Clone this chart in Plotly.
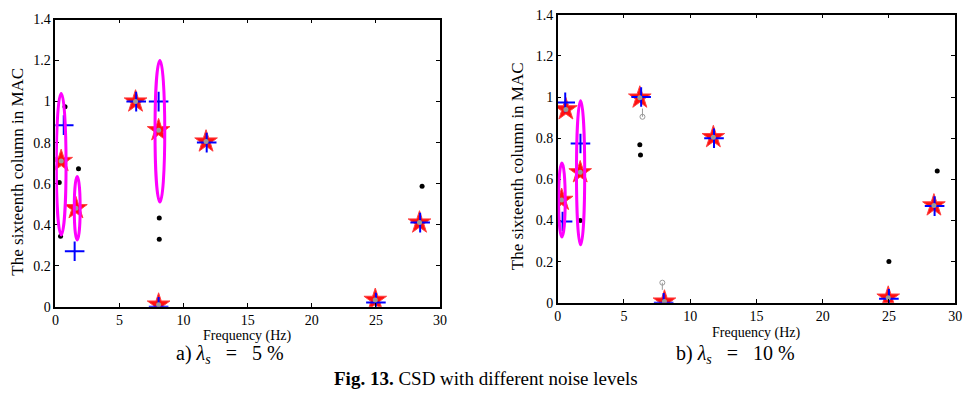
import plotly.graph_objects as go

# ---------------- data: a) lambda_s = 5 % ----------------
L_star_x = [0.45, 1.6, 6.25, 8.05, 8.05, 11.75, 24.95, 28.4]
L_star_y = [0.71, 0.48, 1.00, 0.86, 0.01, 0.805, 0.033, 0.41]
L_cross_x = [0.65, 1.5, 6.3, 8.05, 8.05, 11.8, 25.0, 28.45]
L_cross_y = [0.885, 0.27, 1.00, 1.00, 0.00, 0.80, 0.02, 0.41]
L_dot_x = [0.75, 0.4, 0.3, 1.8, 8.1, 8.1, 28.6]
L_dot_y = [0.975, 0.344, 0.605, 0.673, 0.432, 0.329, 0.587]
L_ell_cx = [0.45, 1.70, 8.15]
L_ell_cy = [0.695, 0.48, 0.855]
L_ell_rx = [0.38, 0.23, 0.38]
L_ell_ry = [0.345, 0.155, 0.345]

# ---------------- data: b) lambda_s = 10 % ----------------
R_star_x = [0.62, 0.3, 1.7, 6.2, 8.06, 11.75, 24.95, 28.4]
R_star_y = [0.94, 0.50, 0.634, 0.997, 0.006, 0.805, 0.025, 0.473]
R_cross_x = [0.57, 0.37, 1.72, 6.3, 8.0, 11.8, 25.0, 28.45]
R_cross_y = [0.974, 0.395, 0.774, 1.00, 0.00, 0.80, 0.02, 0.47]
R_dot_x = [6.2, 6.25, 1.7, 25.0, 28.65]
R_dot_y = [0.768, 0.718, 0.40, 0.201, 0.641]
R_stem_x = [6.4, 7.9]
R_stem_y = [0.904, 0.098]
R_stem_up = [0.04, 0.0]
R_stem_dn = [0.0, 0.035]
R_ell_cx = [0.32, 1.73]
R_ell_cy = [0.50, 0.632]
R_ell_rx = [0.25, 0.31]
R_ell_ry = [0.18, 0.35]

x_ticks = [0, 5, 10, 15, 20, 25, 30]
y_ticks = [0, 0.2, 0.4, 0.6, 0.8, 1.0, 1.2, 1.4]
y_tick_text = ["0", "0.2", "0.4", "0.6", "0.8", "1", "1.2", "1.4"]

FONT = "Liberation Serif, Times New Roman, serif"
RED = "#FF1010"
BLUE = "#0000FF"
MAG = "#FF00FF"
GRAY = "#9A9A9A"

fig = go.Figure()


def add_panel(xa, ya, sx, sy, cx, cy, dx, dy):
    fig.add_trace(go.Scatter(x=dx, y=dy, mode="markers", xaxis=xa, yaxis=ya,
                             marker=dict(color="black", size=5), showlegend=False))
    fig.add_trace(go.Scatter(x=sx, y=sy, mode="markers", xaxis=xa, yaxis=ya,
                             marker=dict(symbol="star", color=RED, size=17,
                                         line=dict(color="#FF4040", width=1)),
                             showlegend=False))
    fig.add_trace(go.Scatter(x=cx, y=cy, mode="markers", xaxis=xa, yaxis=ya,
                             marker=dict(symbol="cross-thin", size=14,
                                         line=dict(color=BLUE, width=2)),
                             showlegend=False))
    fig.add_trace(go.Scatter(x=sx, y=sy, mode="markers", xaxis=xa, yaxis=ya,
                             marker=dict(color=GRAY, size=5), showlegend=False))


add_panel("x", "y", L_star_x, L_star_y, L_cross_x, L_cross_y, L_dot_x, L_dot_y)
add_panel("x2", "y2", R_star_x, R_star_y, R_cross_x, R_cross_y, R_dot_x, R_dot_y)

fig.add_trace(go.Scatter(x=R_stem_x, y=R_stem_y, mode="markers", xaxis="x2", yaxis="y2",
                         marker=dict(symbol="circle-open", color=GRAY, size=5,
                                     line=dict(width=1)),
                         error_y=dict(type="data", symmetric=False, array=R_stem_up,
                                      arrayminus=R_stem_dn, color=GRAY, width=0,
                                      thickness=1),
                         showlegend=False))

shapes = []
for (xr, yr, cxs, cys, rxs, rys) in [("x", "y", L_ell_cx, L_ell_cy, L_ell_rx, L_ell_ry),
                                     ("x2", "y2", R_ell_cx, R_ell_cy, R_ell_rx, R_ell_ry)]:
    for c_x, c_y, r_x, r_y in zip(cxs, cys, rxs, rys):
        shapes.append(dict(type="circle", xref=xr, yref=yr,
                           x0=c_x - r_x, x1=c_x + r_x, y0=c_y - r_y, y1=c_y + r_y,
                           line=dict(color=MAG, width=3)))

W, H = 974, 413


def px(xp):
    return xp / W


def py(yp):
    return 1 - yp / H


axis_common = dict(showline=True, linecolor="black", linewidth=1.5, mirror="ticks",
                   ticks="inside", ticklen=4, tickcolor="black", showgrid=False,
                   zeroline=False, tickfont=dict(family=FONT, size=14, color="black"))

fig.update_layout(
    width=W, height=H, margin=dict(l=0, r=0, t=0, b=0),
    paper_bgcolor="white", plot_bgcolor="white", shapes=shapes,
    font=dict(family=FONT, color="black"),
    xaxis=dict(domain=[px(52), px(441)], range=[0, 30], tickvals=x_ticks,
               anchor="y", **axis_common),
    yaxis=dict(domain=[py(311), py(13)], range=[0, 1.4], tickvals=y_ticks,
               ticktext=y_tick_text, anchor="x", **axis_common),
    xaxis2=dict(domain=[px(560), px(962)], range=[0, 30], tickvals=x_ticks,
                anchor="y2", **axis_common),
    yaxis2=dict(domain=[py(307), py(8)], range=[0, 1.4], tickvals=y_ticks,
                ticktext=y_tick_text, anchor="x2", **axis_common),
)

ann = [
    dict(text="The sixteenth column in MAC", x=px(14), y=py(171), textangle=-90,
         font=dict(family=FONT, size=17, color="black")),
    dict(text="The sixteenth column in MAC", x=px(519), y=py(165), textangle=-90,
         font=dict(family=FONT, size=17, color="black")),
    dict(text="Frequency (Hz)", x=px(246), y=py(341), font=dict(family=FONT, size=14, color="black")),
    dict(text="Frequency (Hz)", x=px(761), y=py(338), font=dict(family=FONT, size=14, color="black")),
    dict(text="a) <i>λ<sub>s</sub></i>&nbsp;&nbsp;&nbsp;=&nbsp;&nbsp;&nbsp;5&nbsp;%", x=px(229), y=py(361),
         font=dict(family=FONT, size=20, color="black")),
    dict(text="b) <i>λ<sub>s</sub></i>&nbsp;&nbsp;&nbsp;=&nbsp;&nbsp;&nbsp;10&nbsp;%", x=px(740), y=py(361),
         font=dict(family=FONT, size=20, color="black")),
    dict(text="<b>Fig. 13.</b> CSD with different noise levels", x=px(487), y=py(385),
         font=dict(family=FONT, size=19, color="black")),
]
for a in ann:
    a.update(xref="paper", yref="paper", showarrow=False, xanchor="center",
             yanchor="middle")
fig.update_layout(annotations=ann)

fig.write_html("out.html")
